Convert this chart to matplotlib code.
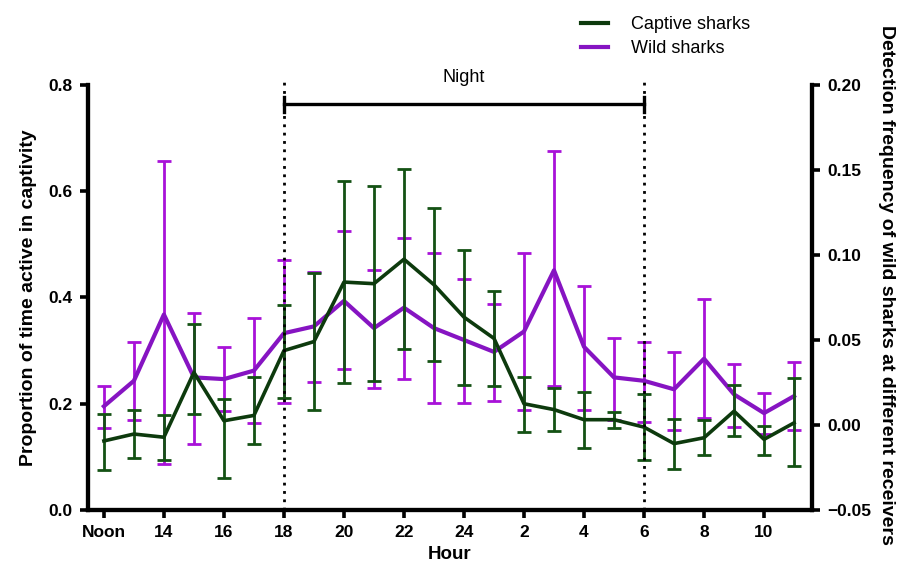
import matplotlib
matplotlib.use("Agg")
import matplotlib.pyplot as plt
from matplotlib.lines import Line2D

plt.rcParams['font.family'] = ['Liberation Sans', 'DejaVu Sans']

# Hours (12 = noon ... 35 = 11 next morning)
hours = list(range(12, 36))
tick_hours = [12, 14, 16, 18, 20, 22, 24, 26, 28, 30, 32, 34]
tick_labels = ["Noon", "14", "16", "18", "20", "22", "24", "2", "4", "6", "8", "10"]

# Captive sharks: proportion of time active (left axis)
captive = [0.130, 0.143, 0.137, 0.259, 0.168, 0.178, 0.300, 0.317, 0.429, 0.426, 0.472, 0.424,
           0.363, 0.323, 0.200, 0.189, 0.170, 0.170, 0.156, 0.125, 0.136, 0.186, 0.133, 0.164]
captive_hi = [0.181, 0.188, 0.178, 0.350, 0.208, 0.251, 0.386, 0.447, 0.620, 0.609, 0.642, 0.568,
              0.489, 0.413, 0.250, 0.230, 0.223, 0.184, 0.219, 0.172, 0.169, 0.236, 0.158, 0.248]
captive_lo = [0.076, 0.098, 0.095, 0.180, 0.060, 0.125, 0.210, 0.189, 0.239, 0.243, 0.303, 0.281,
              0.236, 0.233, 0.147, 0.149, 0.116, 0.155, 0.095, 0.078, 0.103, 0.139, 0.103, 0.083]

# Wild sharks: detection frequency (right axis)
wild = [0.011, 0.026, 0.065, 0.028, 0.027, 0.032, 0.054, 0.058, 0.073, 0.057, 0.069, 0.057,
        0.050, 0.043, 0.055, 0.091, 0.046, 0.028, 0.026, 0.021, 0.039, 0.018, 0.007, 0.017]
wild_hi = [0.023, 0.049, 0.155, 0.066, 0.046, 0.063, 0.097, 0.090, 0.114, 0.091, 0.110, 0.101,
           0.086, 0.071, 0.101, 0.161, 0.082, 0.051, 0.049, 0.043, 0.074, 0.036, 0.019, 0.037]
wild_lo = [-0.002, 0.003, -0.023, -0.011, 0.008, 0.001, 0.013, 0.025, 0.033, 0.022, 0.027, 0.013,
           0.013, 0.014, 0.009, 0.023, 0.009, 0.003, 0.002, -0.003, 0.004, -0.001, -0.005, -0.003]

green = "#0d3a0d"
green_cap = "#145214"
purple = "#8614c2"
purple_err = "#a812d8"

fig = plt.figure(figsize=(8.97, 5.68), dpi=100)
ax = fig.add_axes([0.0981, 0.1021, 0.8072, 0.7483])
ax2 = ax.twinx()

# Wild sharks (right axis)
werr = [[w - l for w, l in zip(wild, wild_lo)], [h - w for w, h in zip(wild, wild_hi)]]
ax2.errorbar(hours, wild, yerr=werr, color=purple, ecolor=purple_err, elinewidth=2.0,
             capsize=5, capthick=2.0, linewidth=3.0, zorder=2)

# Captive sharks (left axis) drawn on top
cerr = [[c - l for c, l in zip(captive, captive_lo)], [h - c for c, h in zip(captive, captive_hi)]]
ax.errorbar(hours, captive, yerr=cerr, color=green, ecolor=green_cap, elinewidth=2.0,
            capsize=5, capthick=2.0, linewidth=2.6, zorder=3)

ax.set_zorder(ax2.get_zorder() + 1)
ax.patch.set_visible(False)

ax.set_xlim(11.47, 35.6)
ax.set_ylim(0, 0.8)
ax2.set_ylim(-0.05, 0.20)

ax.set_xticks(tick_hours)
ax.set_xticklabels(tick_labels)
ax.set_yticks([0.0, 0.2, 0.4, 0.6, 0.8])
ax.set_yticklabels(["0.0", "0.2", "0.4", "0.6", "0.8"])
ax2.set_yticks([-0.05, 0.0, 0.05, 0.10, 0.15, 0.20])
ax2.set_yticklabels(["\u22120.05", "0.00", "0.05", "0.10", "0.15", "0.20"])

for a in (ax, ax2):
    for s in a.spines.values():
        s.set_linewidth(3.0)
    a.spines['top'].set_visible(False)
    a.tick_params(width=2.6, length=6, labelsize=12.5, direction='out', pad=5)
    for lab in a.get_xticklabels() + a.get_yticklabels():
        lab.set_fontweight('bold')

# Night markers
for h in (18, 30):
    ax.plot([h, h], [0, 0.805], color='black', linestyle=(0, (1, 2)), linewidth=2.0,
            clip_on=False, zorder=4)
ax.plot([18, 30], [0.764, 0.764], color='black', linewidth=2.4, clip_on=False, zorder=4)
for h in (18, 30):
    ax.plot([h, h], [0.75, 0.778], color='black', linewidth=2.4, clip_on=False, zorder=4)
ax.text(24, 0.815, "Night", ha='center', va='center', fontsize=13, clip_on=False)

ax.set_xlabel("Hour", fontsize=13.5, fontweight='bold', labelpad=4)
ax.set_ylabel("Proportion of time active in captivity", fontsize=14, fontweight='bold', labelpad=8)
ax2.set_ylabel("Detection frequency of wild sharks at different receivers", fontsize=14,
               fontweight='bold', rotation=270, va='center', ha='center')
ax2.yaxis.set_label_coords(1.1035, 0.53)

handles = [Line2D([0], [0], color=green, linewidth=3.0),
           Line2D([0], [0], color=purple, linewidth=3.0)]
fig.legend(handles, ["Captive sharks", "Wild sharks"], loc='upper left',
           bbox_to_anchor=(0.630, 1.0), frameon=False, fontsize=13,
           handlelength=1.45, handletextpad=1.3, labelspacing=0.4)

fig.savefig("out.png", dpi=100)
